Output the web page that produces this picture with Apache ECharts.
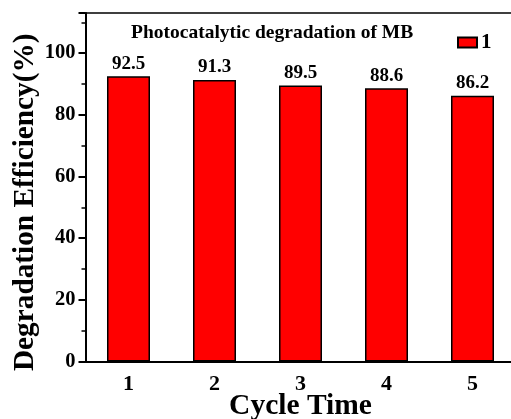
<!DOCTYPE html>
<html>
<head>
<meta charset="utf-8">
<script src="https://cdn.jsdelivr.net/npm/echarts@6/dist/echarts.min.js"></script>
<style>
  html, body { margin: 0; padding: 0; background: #fff; }
  #chart { width: 511px; height: 419px; }
</style>
</head>
<body>
<div id="chart"></div>
<script>
// Cycle runs and the MB degradation efficiency measured in each
const cycles = ['1', '2', '3', '4', '5'];
const efficiency = [92.5, 91.3, 89.5, 88.6, 86.2];
const seriesName = '1';
const yTicks = { min: 0, max: 113, interval: 20 };

const serif = 'Liberation Serif, Times New Roman, serif';

const chart = echarts.init(document.getElementById('chart'), null, { renderer: 'canvas' });

chart.setOption({
  animation: false,
  backgroundColor: '#fff',
  title: {
    text: 'Photocatalytic degradation of MB',
    left: 126,
    top: 18,
    textStyle: { fontFamily: serif, fontWeight: 'bold', fontSize: 19.5, color: '#000' }
  },
  legend: {
    data: [seriesName],
    left: 457,
    top: 32,
    padding: 0,
    itemWidth: 19,
    itemHeight: 10,
    itemGap: 5,
    icon: 'rect',
    textStyle: { fontFamily: serif, fontWeight: 'bold', fontSize: 21, color: '#000', padding: [0, 0, 0, -1] }
  },
  grid: { left: 85.5, right: -4.5, top: 13, bottom: 57.5, show: false, outerBoundsMode: 'none', containLabel: false },
  xAxis: [
    {
      type: 'category',
      data: cycles,
      boundaryGap: true,
      name: 'Cycle Time',
      nameLocation: 'middle',
      nameMoveOverlap: false,
      nameGap: 30,
      nameTextStyle: { fontFamily: serif, fontWeight: 'bold', fontSize: 29.5, color: '#000' },
      axisLine: { lineStyle: { color: '#000', width: 2 } },
      axisTick: { alignWithLabel: true, length: 6, lineStyle: { color: '#000', width: 2 } },
      axisLabel: { margin: 12, fontFamily: serif, fontWeight: 'bold', fontSize: 22, color: '#000' },
      splitLine: { show: false }
    },
    {
      // short ticks on the category boundaries along the bottom
      type: 'category',
      data: cycles,
      position: 'bottom',
      boundaryGap: true,
      axisLine: { show: false },
      axisTick: { alignWithLabel: false, length: 4, lineStyle: { color: '#000', width: 1.5 } },
      axisLabel: { show: false },
      splitLine: { show: false }
    },
    {
      // top frame line
      type: 'category',
      data: cycles,
      position: 'top',
      axisLine: { lineStyle: { color: '#000', width: 1.5 } },
      axisTick: { show: false },
      axisLabel: { show: false },
      splitLine: { show: false }
    }
  ],
  yAxis: {
    type: 'value',
    min: yTicks.min,
    max: yTicks.max,
    interval: yTicks.interval,
    name: 'Degradation Efficiency(%)',
    nameLocation: 'middle',
    nameMoveOverlap: false,
    nameGap: 46,
    nameTextStyle: {
      fontFamily: serif, fontWeight: 'bold', fontSize: 29.3, color: '#000',
      padding: [0, 30, 0, 0]
    },
    axisLine: { show: true, lineStyle: { color: '#000', width: 2 } },
    axisTick: { show: true, length: 7, lineStyle: { color: '#000', width: 2 } },
    minorTick: { show: true, splitNumber: 2, length: 4, lineStyle: { color: '#000', width: 1.5 } },
    axisLabel: {
      margin: 10,
      fontFamily: serif, fontWeight: 'bold', fontSize: 20.5, color: '#000',
      showMaxLabel: false
    },
    splitLine: { show: false }
  },
  series: [{
    name: seriesName,
    type: 'bar',
    data: efficiency,
    barWidth: '50%',
    itemStyle: { color: '#ff0000', borderColor: '#000', borderWidth: 1.5 },
    label: {
      show: true,
      position: 'top',
      distance: 3,
      fontFamily: serif, fontWeight: 'bold', fontSize: 19, color: '#000'
    }
  }]
});
</script>
</body>
</html>
